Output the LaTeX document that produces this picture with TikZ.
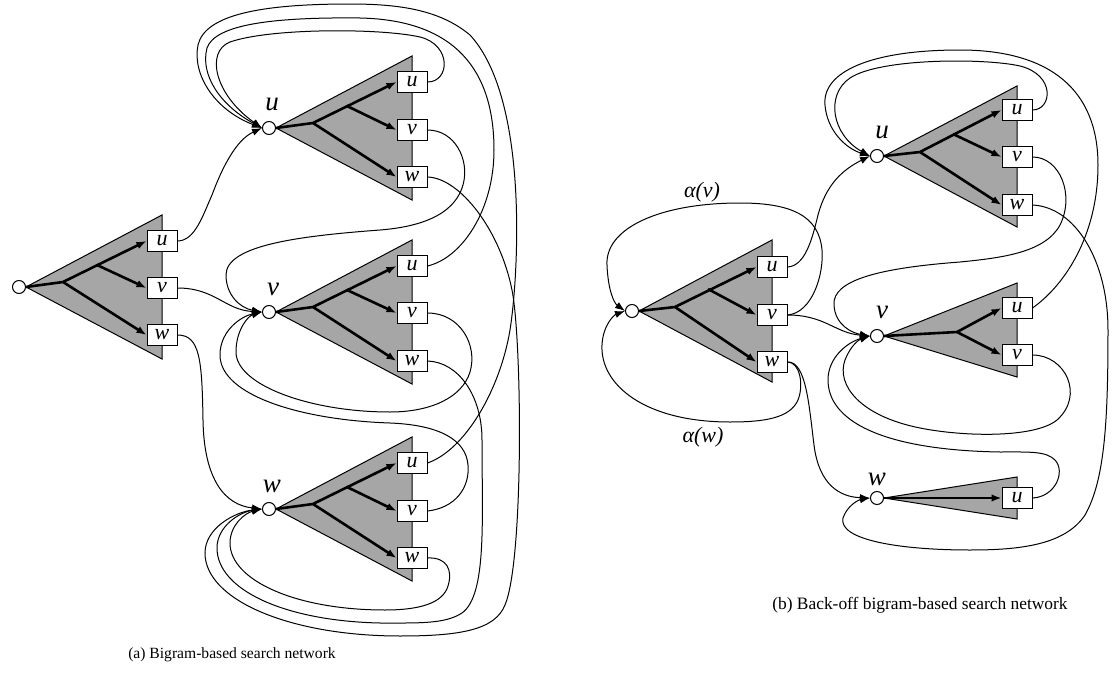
\documentclass[tikz,border=0pt]{standalone}
\usepackage{fontspec}
\setmainfont{Liberation Serif}
\usetikzlibrary{arrows.meta}

\begin{document}
\begin{tikzpicture}[x=0.5pt,y=-0.5pt,
  tri/.style={draw=black,line width=0.5pt,fill=black!35},
  state/.style={circle,draw,fill=white,line width=0.5pt,minimum size=6.5pt,inner sep=0pt},
  word/.style={draw,fill=white,line width=0.5pt,minimum width=15pt,minimum height=10.5pt,inner sep=0pt,font=\fontsize{11}{11}\selectfont\itshape},
  hist/.style={font=\fontsize{13.5}{14}\selectfont\itshape},
  weight/.style={font=\fontsize{11}{12}\selectfont\itshape},
  branch/.style={line width=1.3pt,-{Latex[length=5pt,width=3.8pt]}},
  link/.style={line width=0.5pt,-{Latex[length=5pt,width=3.6pt]}},
  capt/.style={font=\fontsize{8.7}{10}\selectfont}]
\useasboundingbox (0,0) rectangle (1116,691);

% (a) bigram network
\filldraw[tri] (26,287) -- (162,215) -- (162,359) -- cycle;
\filldraw[tri] (276,128) -- (412,56) -- (412,200) -- cycle;
\filldraw[tri] (276,312) -- (412,240) -- (412,384) -- cycle;
\filldraw[tri] (276,509) -- (412,437) -- (412,581) -- cycle;

\node[state] (aR) at (19,287) {};
\node[word] (aRu) at (162,241) {u};
\node[word] (aRv) at (162,288) {v};
\node[word] (aRw) at (162,335) {w};
\coordinate (aR1) at (63,282);
\coordinate (aR2) at (97,265);

\node[state] (aU) at (269,128) {};
\node[hist] (aUl) at (272,104) {u};
\node[word] (aUu) at (412,82) {u};
\node[word] (aUv) at (412,130) {v};
\node[word] (aUw) at (412,177) {w};
\coordinate (aU1) at (313,123);
\coordinate (aU2) at (347,106);

\node[state] (aV) at (269,312) {};
\node[hist] (aVl) at (273,289) {v};
\node[word] (aVu) at (412,266) {u};
\node[word] (aVv) at (412,313) {v};
\node[word] (aVw) at (412,361) {w};
\coordinate (aV1) at (313,307);
\coordinate (aV2) at (347,290);

\node[state] (aW) at (269,509) {};
\node[hist] (aWl) at (272,486) {w};
\node[word] (aWu) at (412,463) {u};
\node[word] (aWv) at (412,511) {v};
\node[word] (aWw) at (412,558) {w};
\coordinate (aW1) at (313,504);
\coordinate (aW2) at (347,487);

\draw[branch] (aR.east) -- (aR1) -- (aRu.west);
\draw[branch] (aR2) -- (aRv.west);
\draw[branch] (aR1) -- (aRw.west);
\draw[branch] (aU.east) -- (aU1) -- (aUu.west);
\draw[branch] (aU2) -- (aUv.west);
\draw[branch] (aU1) -- (aUw.west);
\draw[branch] (aV.east) -- (aV1) -- (aVu.west);
\draw[branch] (aV2) -- (aVv.west);
\draw[branch] (aV1) -- (aVw.west);
\draw[branch] (aW.east) -- (aW1) -- (aWu.west);
\draw[branch] (aW2) -- (aWv.west);
\draw[branch] (aW1) -- (aWw.west);

\draw[link] (aRu.east) .. controls (195,241) and (203,215) .. (212,195) .. controls (222,168) and (236,140) .. (aU.west);
\draw[link] (aRv.east) .. controls (215,288) and (225,310) .. (aV.west);
\draw[link] (aRw.east) .. controls (200,335) and (202,360) .. (203,420) .. controls (204,480) and (225,505) .. (aW.west);

\draw[link] (aUu.east) .. controls (450,82) and (452,45) .. (420,37) .. controls (380,28) and (270,28) .. (230,42) .. controls (205,52) and (215,95) .. (aU.west);
\draw[link] (aVu.east) .. controls (462,258) and (494,210) .. (494,150) .. controls (494,70) and (455,20) .. (360,18) .. controls (270,17) and (215,25) .. (207,48) .. controls (200,75) and (220,105) .. (aU.west);
\draw[link] (aWu.east) .. controls (465,450) and (500,390) .. (510,330) .. controls (518,280) and (530,100) .. (470,35) .. controls (440,10) and (400,4) .. (350,4) .. controls (260,4) and (205,15) .. (198,45) .. controls (192,75) and (215,110) .. (aU.west);

\draw[link] (aUv.east) .. controls (455,130) and (470,160) .. (463,185) .. controls (456,210) and (430,226) .. (380,230) .. controls (300,236) and (226,245) .. (226,275) .. controls (226,295) and (240,308) .. (aV.west);
\draw[link] (aVv.east) .. controls (460,313) and (478,345) .. (470,372) .. controls (462,398) and (430,412) .. (390,412) .. controls (310,412) and (236,385) .. (236,352) .. controls (236,330) and (248,316) .. (aV.west);
\draw[link] (aWv.east) .. controls (455,508) and (470,488) .. (468,465) .. controls (466,440) and (440,425) .. (390,423) .. controls (300,420) and (220,395) .. (220,355) .. controls (220,330) and (242,316) .. (aV.west);

\draw[link] (aUw.east) .. controls (460,178) and (500,230) .. (512,290) .. controls (522,340) and (524,560) .. (505,605) .. controls (495,630) and (460,636) .. (400,636) .. controls (290,636) and (205,600) .. (205,553) .. controls (205,528) and (235,512) .. (aW.west);
\draw[link] (aVw.east) .. controls (458,362) and (482,395) .. (482,440) .. controls (482,520) and (487,595) .. (462,613) .. controls (445,624) and (420,623) .. (380,623) .. controls (285,621) and (217,590) .. (217,548) .. controls (217,526) and (240,512) .. (aW.west);
\draw[link] (aWw.east) .. controls (447,557) and (453,570) .. (448,586) .. controls (443,603) and (420,610) .. (385,610) .. controls (295,610) and (230,580) .. (230,543) .. controls (230,525) and (245,513) .. (aW.west);

\node[capt,font=\fontsize{7.8}{9}\selectfont] (capa) at (232,655) {(a) Bigram-based search network};

% (b) back-off network
\filldraw[tri] (639,311) -- (772,240) -- (772,382) -- cycle;
\filldraw[tri] (884,156) -- (1017,86) -- (1017,227) -- cycle;
\filldraw[tri] (884,336) -- (1017,283) -- (1017,377) -- cycle;
\filldraw[tri] (884,498) -- (1017,477) -- (1017,519) -- cycle;

\node[state] (bR) at (632,311) {};
\node[word] (bRu) at (772,267) {u};
\node[word] (bRv) at (772,315) {v};
\node[word] (bRw) at (772,362) {w};
\coordinate (bR1) at (675,307);
\coordinate (bR2) at (708,289);

\node[state] (bU) at (877,156) {};
\node[hist] (bUl) at (882,132) {u};
\node[word] (bUu) at (1017,110) {u};
\node[word] (bUv) at (1017,157) {v};
\node[word] (bUw) at (1017,205) {w};
\coordinate (bU1) at (920,152);
\coordinate (bU2) at (953,134);

\node[state] (bV) at (877,336) {};
\node[hist] (bVl) at (882,312) {v};
\node[word] (bVu) at (1017,308) {u};
\node[word] (bVv) at (1017,355) {v};
\coordinate (bV1) at (957,332);

\node[state] (bW) at (877,498) {};
\node[hist] (bWl) at (877,479) {w};
\node[word] (bWu) at (1017,498) {u};

\draw[branch] (bR.east) -- (bR1) -- (bRu.west);
\draw[branch] (bR2) -- (bRv.west);
\draw[branch] (bR1) -- (bRw.west);
\draw[branch] (bU.east) -- (bU1) -- (bUu.west);
\draw[branch] (bU2) -- (bUv.west);
\draw[branch] (bU1) -- (bUw.west);
\draw[branch] (bV.east) -- (bV1) -- (bVu.west);
\draw[branch] (bV1) -- (bVv.west);
\draw[branch] (bW.east) -- (bWu.west);

\draw[link] (bRv.east) .. controls (812,313) and (824,275) .. (822,250) .. controls (819,215) and (790,203) .. (740,203) .. controls (660,203) and (605,228) .. (607,265) .. controls (608,290) and (614,303) .. (bR.west);
\draw[link] (bRw.east) .. controls (800,362) and (804,385) .. (798,400) .. controls (790,418) and (765,422) .. (730,422) .. controls (645,422) and (600,385) .. (602,345) .. controls (603,325) and (614,315) .. (bR.west);
\node[weight] (av) at (702,192) {α(v)};
\node[weight] (aw) at (703,437) {α(w)};

\draw[link] (bRu.east) .. controls (805,266) and (812,240) .. (818,215) .. controls (826,185) and (842,170) .. (bU.west);
\draw[link] (bRv.east) .. controls (825,315) and (835,333) .. (bV.west);
\draw[link] (bRw.east) .. controls (806,361) and (809,405) .. (814,445) .. controls (819,485) and (840,497) .. (bW.west);

\draw[link] (bUu.east) .. controls (1052,110) and (1056,75) .. (1020,66) .. controls (985,58) and (880,58) .. (850,78) .. controls (825,95) and (832,135) .. (bU.west);
\draw[link] (bVu.east) .. controls (1065,285) and (1098,235) .. (1098,165) .. controls (1098,90) and (1050,50) .. (960,50) .. controls (870,50) and (822,72) .. (825,105) .. controls (827,130) and (845,148) .. (bU.west);
\draw[link] (bUv.east) .. controls (1060,157) and (1075,195) .. (1060,225) .. controls (1045,253) and (1000,258) .. (960,262) .. controls (880,268) and (832,280) .. (834,305) .. controls (835,325) and (852,333) .. (bV.west);
\draw[link] (bVv.east) .. controls (1065,355) and (1085,395) .. (1057,420) .. controls (1035,438) and (965,437) .. (920,428) .. controls (860,416) and (836,385) .. (845,360) .. controls (850,347) and (858,340) .. (bV.west);
\draw[link] (bWu.east) .. controls (1055,497) and (1066,472) .. (1055,460) .. controls (1046,451) and (1030,452) .. (1000,452) .. controls (880,450) and (828,420) .. (828,380) .. controls (828,357) and (848,342) .. (bV.west);
\draw[link] (bUw.east) .. controls (1075,207) and (1108,260) .. (1108,330) .. controls (1108,420) and (1105,480) .. (1085,515) .. controls (1065,545) and (1020,550) .. (970,550) .. controls (900,550) and (838,540) .. (843,518) .. controls (847,506) and (858,500) .. (bW.west);

\node[capt] (capb) at (920,605) {(b) Back-off bigram-based search network};
\end{tikzpicture}
\end{document}
